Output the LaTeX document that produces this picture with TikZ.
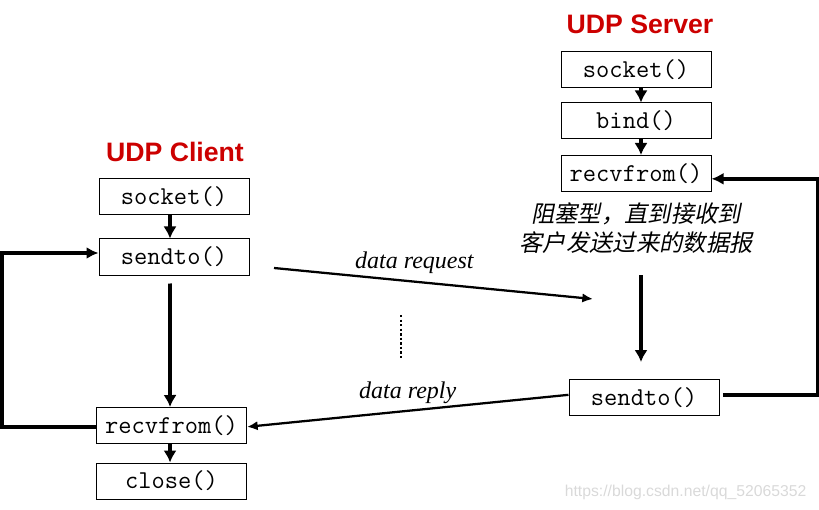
\documentclass[tikz,border=0pt]{standalone}
\usepackage{fontspec}
\setmainfont{Liberation Serif}
\newfontfamily\titlefont{Liberation Sans}
\newfontfamily\cjk[FakeSlant=0.2]{Noto Sans CJK SC}
\newfontfamily\wmfont{Liberation Sans}
\usetikzlibrary{arrows.meta,calc}
\definecolor{titlered}{HTML}{CC0000}
\tikzset{
  fbox/.style={draw, line width=0.75pt, minimum width=112.5pt, minimum height=27pt, inner sep=0pt,
    font=\ttfamily\fontsize{19.3}{22}\selectfont},
  ttl/.style={text=titlered, font=\titlefont\bfseries\fontsize{20}{24}\selectfont},
  thickarr/.style={line width=2.8pt, -{Latex[length=9pt,width=10pt]}},
  loopline/.style={line width=2.6pt, -{Latex[length=9pt,width=9pt]}},
  msgarr/.style={line width=1.7pt, -{Latex[length=8pt,width=7pt]}},
  msglbl/.style={font=\itshape\fontsize{18}{22}\selectfont},
  note/.style={font=\cjk\fontsize{17.5}{22}\selectfont, align=center}
}
\begin{document}
\begin{tikzpicture}[x=0.75pt,y=-0.75pt]
\useasboundingbox (0,0) rectangle (819,510);
% titles
\node[ttl] (tclient) at (175,152) {UDP Client};
\node[ttl] (tserver) at (640,24) {UDP Server};
% client boxes
\node[fbox] (csock) at (174,197) {socket()};
\node[fbox] (csend) at (174,257) {sendto()};
\node[fbox] (crecv) at (171.5,425.5) {recvfrom()};
\node[fbox] (cclose) at (171.5,481) {close()};
% server boxes
\node[fbox] (ssock) at (636,69.5) {socket()};
\node[fbox] (sbind) at (636,121) {bind()};
\node[fbox] (srecv) at (636,173.5) {recvfrom()};
\node[fbox] (ssend) at (644,397.5) {sendto()};
% note
\node[note] (note) at (636,228) {阻塞型，直到接收到\\客户发送过来的数据报};
% coordinates
\coordinate (reqs) at (274,268);
\coordinate (reqe) at (593,299);
\coordinate (sarrs) at (641,275);
\coordinate (sarre) at (641,362);
\coordinate (dots) at (401,315);
\coordinate (dote) at (401,360);
% client arrows
\draw[thickarr] ([xshift=-3pt]csock.south) -- ([xshift=-3pt]csend.north);
\draw[thickarr] ([xshift=-3pt,yshift=-6pt]csend.south) -- ([xshift=-1.1pt]crecv.north);
\draw[thickarr] ([xshift=-1.1pt]crecv.south) -- ([xshift=-1.1pt]cclose.north);
\draw[loopline] ([yshift=-1pt]crecv.west) -- ++(-94,0) |- ([yshift=3pt]csend.west);
% server arrows
\draw[thickarr] ([xshift=3.75pt]ssock.south) -- ([xshift=3.75pt]sbind.north);
\draw[thickarr] ([xshift=3.75pt]sbind.south) -- ([xshift=3.75pt]srecv.north);
\draw[thickarr] (sarrs) -- (sarre);
\draw[loopline] ([xshift=2.5pt,yshift=2pt]ssend.east) -- ++(95,0) |- ([yshift=-4pt]srecv.east);
% messages
\draw[msgarr] (reqs) -- node[msglbl, pos=0.44, above=2pt] (lreq) {data request} (reqe);
\draw[msgarr] ([yshift=2pt]ssend.west) -- node[msglbl, pos=0.5, above=1pt] (lrep) {data reply} ([yshift=-1pt]crecv.east);
\draw[line width=2.2pt, dash pattern=on 1.8pt off 1.6pt] (dots) -- (dote);
% watermark
\node[font=\wmfont\fontsize{11.8}{13}\selectfont, text=black!15, anchor=east] (wm) at (811,492) {https://blog.csdn.net/qq\_52065352};
\end{tikzpicture}
\end{document}
